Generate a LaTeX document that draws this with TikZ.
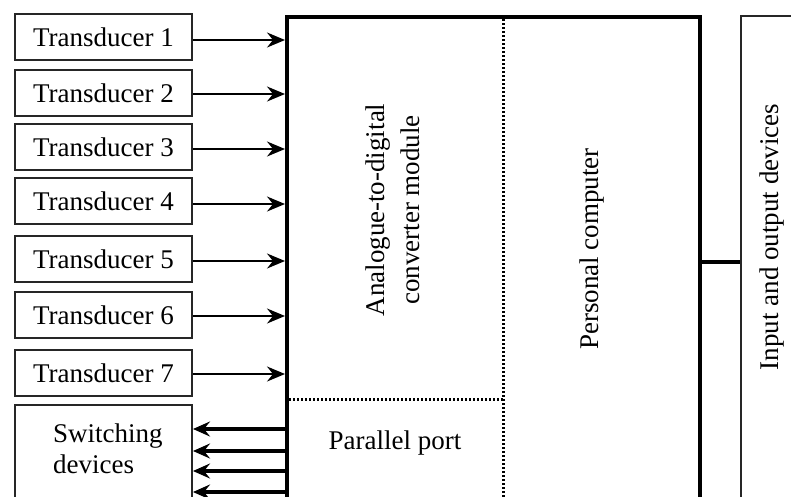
\documentclass[tikz,border=0pt]{standalone}
\usepackage{fontspec}
\setmainfont{Liberation Serif}
\usetikzlibrary{arrows.meta}

\begin{document}
\begin{tikzpicture}[x=1pt,y=-1pt,
  font=\fontsize{27}{35}\selectfont,
  tbox/.style={draw=black!85, line width=2pt, minimum width=177pt, minimum height=46pt,
    inner sep=0pt, anchor=north west},
  bigbox/.style={draw, line width=4pt, inner sep=0pt, anchor=north west},
  thinbox/.style={draw=black!85, line width=2pt, inner sep=0pt, anchor=north west},
  inarrow/.style={line width=2pt, -{Stealth[length=18pt,width=15pt,inset=6pt]}},
  outarrow/.style={line width=3.5pt, -{Stealth[length=17pt,width=15pt,inset=6pt]}},
  dotline/.style={line width=3pt, dash pattern=on 2pt off 2pt},
  lbl/.style={inner sep=0pt}
]
\useasboundingbox (0,0) rectangle (791,496);
\clip (0,0) rectangle (791,496);

% transducer boxes
\node[tbox] (t1) at (14,13)  {Transducer 1};
\node[tbox] (t2) at (14,69)  {Transducer 2};
\node[tbox] (t3) at (14,123) {Transducer 3};
\node[tbox] (t4) at (14,177) {Transducer 4};
\node[tbox] (t5) at (14,235) {Transducer 5};
\node[tbox] (t6) at (14,291) {Transducer 6};
\node[tbox] (t7) at (14,349) {Transducer 7};

% switching devices box (runs past the lower edge)
\node[thinbox, minimum width=177pt, minimum height=120pt] (sw) at (14,404) {};
\node[lbl, align=left, anchor=west] (swl) at (53,449) {Switching\\[-4pt]devices};

% converter / computer enclosure
\node[bigbox, minimum width=413pt, minimum height=520pt] (pc) at (285,15) {};

% input and output devices box
\node[thinbox, minimum width=120pt, minimum height=520pt] (io) at (740,15) {};

% internal divisions
\coordinate (dtop) at (503,15);
\coordinate (dbot) at (503,520);
\coordinate (hport) at (503,399);
\draw[dotline] (dtop) -- (dbot);
\draw[dotline] (pc.west |- hport) -- (hport);

% labels
\node[lbl, rotate=90, align=center] (adc) at (392.5,210) {Analogue-to-digital\\converter module};
\node[lbl, rotate=90] (pcl) at (592,249) {Personal computer};
\node[lbl] (pp) at (395,443) {Parallel port};
\node[lbl, rotate=90] (iol) at (772,237) {Input and output devices};

% transducer signals into the converter
\draw[inarrow] ([yshift=-3pt]t1.east) -- ([yshift=-3pt]t1.east -| pc.west);
\draw[inarrow] ([yshift=-1pt]t2.east) -- ([yshift=-1pt]t2.east -| pc.west);
\draw[inarrow] ([yshift=-2pt]t3.east) -- ([yshift=-2pt]t3.east -| pc.west);
\draw[inarrow] ([yshift=-3pt]t4.east) -- ([yshift=-3pt]t4.east -| pc.west);
\draw[inarrow] ([yshift=-2pt]t5.east) -- ([yshift=-2pt]t5.east -| pc.west);
\draw[inarrow] ([yshift=-1pt]t6.east) -- ([yshift=-1pt]t6.east -| pc.west);
\draw[inarrow] ([yshift=-1pt]t7.east) -- ([yshift=-1pt]t7.east -| pc.west);

% parallel port outputs to switching devices
\foreach \yy [count=\i] in {429,451,471,492}{
  \coordinate (o\i) at (0,\yy);
  \draw[outarrow] (pc.west |- o\i) -- (sw.east |- o\i);
}

% computer to input/output devices
\coordinate (iolink) at (0,262);
\draw[line width=3.5pt] (pc.east |- iolink) -- (io.west |- iolink);
\end{tikzpicture}
\end{document}
